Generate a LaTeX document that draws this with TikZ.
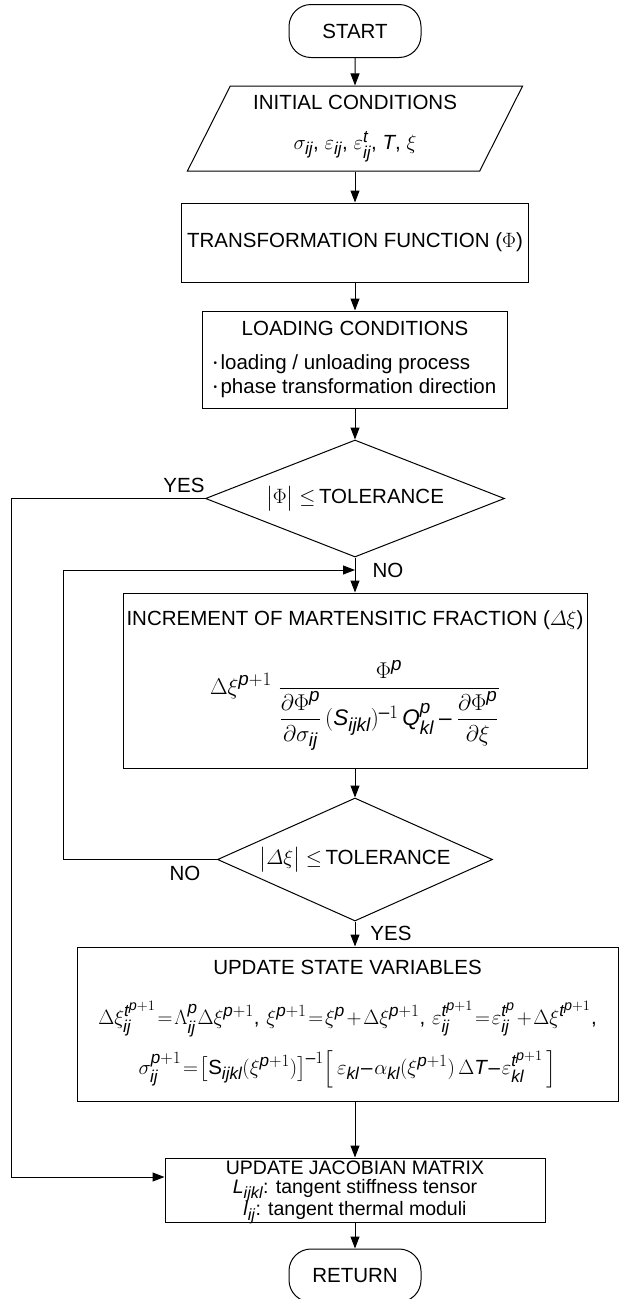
\documentclass[tikz,border=0pt]{standalone}
\usepackage{amsmath}
\usepackage{graphicx}
\usepackage{fontspec}
\setmainfont{Liberation Sans}
\usepackage[italic]{mathastext}
\usetikzlibrary{arrows.meta, shapes.geometric}
\tikzset{
  every picture/.style={line width=1pt},
  box/.style={draw, rectangle, align=center, inner sep=2pt},
  terminal/.style={draw, rectangle, rounded corners=22pt, minimum width=132pt, minimum height=53pt},
  decision/.style={draw, diamond, inner sep=0pt, align=center},
  inputbox/.style={draw, trapezium, trapezium left angle=63, trapezium right angle=117,
    trapezium stretches=true, align=center, inner sep=2pt},
  arrow/.style={-{Triangle[length=12pt, width=9pt]}},
  note/.style={inner sep=0pt},
}
\newcommand{\dotitem}{\raisebox{0.3ex}{\normalsize\textbullet}\,}
\newcommand{\tightmath}{\thickmuskip=1.5mu\medmuskip=1.5mu}

\begin{document}
\begin{tikzpicture}[x=1pt, y=-1pt, font=\fontsize{20.5}{24}\selectfont]
  \useasboundingbox (0,0) rectangle (625,1299);
  \node[terminal] (start) at (355,31) {START};
  \node[inputbox, minimum width=336pt, minimum height=85pt] (init) at (355,128.5)
    {INITIAL CONDITIONS\\[16pt] $\sigma_{ij}$, $\varepsilon_{ij}$, $\varepsilon^{t}_{ij}$, $T$, $\xi$};
  \node[box, minimum width=347pt, minimum height=79pt] (trans) at (355,242.5)
    {TRANSFORMATION FUNCTION ($\Phi$)};
  \node[box, minimum width=305pt, minimum height=97pt] (load) at (355,359.5)
    {\begin{tabular}{@{}l@{}}
      \multicolumn{1}{@{}c@{}}{LOADING CONDITIONS}\\[10pt]
      \dotitem loading / unloading process\\
      \dotitem phase transformation direction
    \end{tabular}};
  \node[decision, shape aspect=2.55, minimum width=299pt, minimum height=117pt] (dec1) at (355,498.5)
    {$\bigl|\Phi\bigr|\leq$\,TOLERANCE};
  \node[box, minimum width=464pt, minimum height=175pt] (inc) at (355,680.5)
    {INCREMENT OF MARTENSITIC FRACTION ($\varDelta\xi$)\\[30pt]
     \scalebox{1.1}{$\Delta\xi^{p+1}\;\dfrac{\Phi^{p}}{\dfrac{\partial\Phi^{p}}{\partial\sigma_{ij}}\,(S_{ijkl})^{-1}\,Q^{p}_{kl}-\dfrac{\partial\Phi^{p}}{\partial\xi}}$}};
  \node[decision, shape aspect=2.2, minimum width=275pt, minimum height=123pt] (dec2) at (355,859.5)
    {$\bigl|\varDelta\xi\bigr|\leq$\,TOLERANCE};
  \node[box, minimum width=541pt, minimum height=154pt] (upd) at (347.5,1024)
    {UPDATE STATE VARIABLES\\[26pt]
     $\tightmath\Delta\xi^{t^{p+1}}_{ij}=\Lambda^{p}_{ij}\Delta\xi^{p+1},\,\xi^{p+1}=\xi^{p}+\Delta\xi^{p+1},\,\varepsilon^{t^{p+1}}_{ij}=\varepsilon^{t^{p}}_{ij}+\Delta\xi^{t^{p+1}},$\\[13pt]
     $\tightmath\sigma^{p+1}_{ij}=\bigl[\mathrm{S}_{ijkl}(\xi^{p+1})\bigr]^{-1}\Bigl[\,\varepsilon_{kl}-\alpha_{kl}(\xi^{p+1})\,\Delta T-\varepsilon^{t^{p+1}}_{kl}\,\Bigr]$};
  \node[box, minimum width=380pt, minimum height=64pt, inner sep=0pt] (jac) at (355,1190)
    {\fontsize{19.5}{17}\selectfont
     \raisebox{-2pt}[\height][\depth]{\begin{tabular}{@{}c@{}}
      UPDATE JACOBIAN MATRIX\\ $L_{ijkl}$: tangent stiffness tensor\\ $l_{ij}$: tangent thermal moduli
     \end{tabular}}};
  \node[terminal] (ret) at (355,1275.5) {RETURN};
  \node[note] (yes1) at (184,485) {YES};
  \node[note] (no1) at (388,570) {NO};
  \node[note] (no2) at (185,873) {NO};
  \node[note] (yes2) at (391,933) {YES};
  \coordinate (yesrail) at (11,0);
  \coordinate (norail) at (63,0);
  \coordinate (join) at (355,570);
  \draw[arrow] (start) -- (init);
  \draw[arrow] (init) -- (trans);
  \draw[arrow] (trans) -- (load);
  \draw[arrow] (load) -- (dec1);
  \draw[arrow] (dec1) -- (inc);
  \draw[arrow] (inc) -- (dec2);
  \draw[arrow] (dec2.south) -- (dec2.south |- upd.north);
  \draw[arrow] (jac.north |- upd.south) -- (jac);
  \draw[arrow] (jac) -- (ret);
  \draw[arrow] (dec1.west) -- (dec1.west -| yesrail) |- ([yshift=13pt]jac.west);
  \draw[arrow] (dec2.west) -- (dec2.west -| norail) |- (join);
\end{tikzpicture}
\end{document}
